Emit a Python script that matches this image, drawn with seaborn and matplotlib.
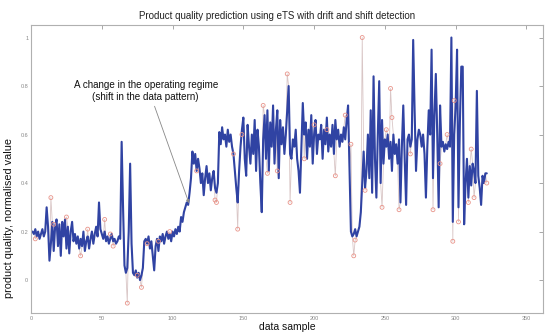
import numpy as np
import pandas as pd
import seaborn as sns
import matplotlib
matplotlib.use("Agg")
import matplotlib.pyplot as plt

# eTS prediction (blue line), one value per data sample
predicted = [
    0.20, 0.19, 0.21, 0.18, 0.20, 0.17, 0.19, 0.21, 0.18, 0.20,
    0.30, 0.22, 0.08, 0.15, 0.24, 0.12, 0.22, 0.25, 0.14, 0.23,
    0.10, 0.24, 0.18, 0.25, 0.13, 0.22, 0.11, 0.20, 0.24, 0.16,
    0.19, 0.15, 0.18, 0.13, 0.17, 0.14, 0.20, 0.12, 0.16, 0.18,
    0.13, 0.17, 0.20, 0.15, 0.19, 0.22, 0.18, 0.32, 0.21, 0.19,
    0.17, 0.20, 0.16, 0.18, 0.15, 0.17, 0.19, 0.16, 0.17, 0.15,
    0.16, 0.18, 0.17, 0.57, 0.30, 0.06, 0.03, 0.05, 0.20, 0.48,
    0.15, 0.03, 0.02, 0.04, 0.01, 0.03, 0.00, 0.02, 0.05, 0.16,
    0.17, 0.15, 0.18, 0.13, 0.16, 0.10, 0.04, 0.14, 0.17, 0.12,
    0.18, 0.16, 0.19, 0.15, 0.18, 0.20, 0.17, 0.19, 0.16, 0.20,
    0.18, 0.21, 0.19, 0.22, 0.20, 0.26, 0.24, 0.28, 0.30, 0.32,
    0.31, 0.36, 0.42, 0.53, 0.48, 0.52, 0.45, 0.50, 0.46, 0.40,
    0.44, 0.35, 0.42, 0.47, 0.40, 0.44, 0.37, 0.42, 0.45, 0.38,
    0.36, 0.40, 0.61, 0.56, 0.63, 0.58, 0.60, 0.55, 0.62, 0.57,
    0.60, 0.55, 0.52, 0.45, 0.38, 0.32, 0.45, 0.55, 0.62, 0.67,
    0.50, 0.43, 0.64, 0.55, 0.48, 0.60, 0.52, 0.66, 0.45, 0.62,
    0.55, 0.40, 0.28, 0.58, 0.68, 0.50, 0.70, 0.45, 0.65, 0.55,
    0.72, 0.48, 0.62, 0.70, 0.42, 0.66, 0.56, 0.63, 0.52, 0.60,
    0.70, 0.80, 0.52, 0.50, 0.58, 0.55, 0.62, 0.50, 0.45, 0.36,
    0.55, 0.73, 0.60, 0.65, 0.50, 0.62, 0.55, 0.68, 0.48, 0.60,
    0.66, 0.52, 0.60, 0.58, 0.64, 0.50, 0.62, 0.56, 0.67, 0.53,
    0.60, 0.55, 0.64, 0.52, 0.66, 0.58, 0.62, 0.55, 0.60, 0.57,
    0.63, 0.58, 0.66, 0.72, 0.45, 0.20, 0.18, 0.19, 0.21, 0.18,
    0.20, 0.22, 0.28, 0.40, 0.53, 0.38, 0.45, 0.60, 0.42, 0.70,
    0.36, 0.84, 0.50, 0.34, 0.60, 0.82, 0.40, 0.66, 0.48, 0.58,
    0.55, 0.60, 0.50, 0.57, 0.45, 0.60, 0.52, 0.56, 0.48, 0.58,
    0.32, 0.55, 0.72, 0.50, 0.31, 0.58, 0.60, 0.55, 0.58, 0.99,
    0.70, 0.45, 0.58, 0.62, 0.60, 0.55, 0.60, 0.52, 0.34, 0.55,
    0.70, 0.60, 0.95, 0.42, 0.68, 0.85, 0.60, 0.30, 0.72, 0.55,
    0.57, 0.53, 0.56, 0.54, 0.57, 0.55, 1.00, 0.24, 0.60, 0.72,
    0.95, 0.30, 0.65, 0.88, 0.88, 0.23, 0.40, 0.50, 0.34, 0.47,
    0.39, 0.48, 0.45, 0.40, 0.78, 0.43, 0.38, 0.31, 0.43, 0.40,
    0.44, 0.44,
]

# measured samples where the real data visibly departs from the prediction
dev_samples = [3, 14, 16, 25, 35, 40, 52, 56, 58, 68, 75, 78, 82, 90, 98,
               117, 130, 131, 143, 146, 149, 164, 167, 174, 181, 183, 193,
               200, 209, 215, 222, 226, 228, 229, 234, 236, 248, 251, 254,
               255, 260, 268, 284, 289, 294, 298, 299, 302, 309, 311, 313, 322]
dev_values = [0.17, 0.34, 0.23, 0.26, 0.10, 0.21, 0.25, 0.19, 0.14, -0.095,
              0.02, -0.03, 0.15, 0.16, 0.20, 0.45, 0.33, 0.32, 0.52, 0.21,
              0.60, 0.72, 0.44, 0.45, 0.85, 0.32, 0.50, 0.64, 0.62, 0.43,
              0.68, 0.56, 0.10, 0.165, 1.00, 0.37, 0.30, 0.62, 0.79, 0.67,
              0.29, 0.52, 0.29, 0.48, 0.60, 0.16, 0.74, 0.24, 0.32, 0.54,
              0.34, 0.40]

samples = np.arange(1, len(predicted) + 1)
df = pd.DataFrame({"sample": samples, "predicted": predicted})
df["actual"] = df["predicted"]
df.loc[df["sample"].isin(dev_samples), "actual"] = dev_values
dev = df[df["sample"].isin(dev_samples)]

sns.set_style("white")
plt.rcParams["font.family"] = ["Liberation Sans", "DejaVu Sans"]

fig = plt.figure(figsize=(5.45, 3.32), dpi=100)
ax = fig.add_axes([0.057, 0.057, 0.939, 0.868])

sns.lineplot(data=df, x="sample", y="actual", ax=ax, color="#d9c6c6", lw=0.6)
sns.lineplot(data=df, x="sample", y="predicted", ax=ax, color="#3043a3", lw=1.5)
sns.scatterplot(data=dev, x="sample", y="actual", ax=ax, s=8, marker="o",
                facecolor="none", edgecolor="#e8948a", linewidth=0.6, zorder=4)

ax.set_xlim(0, 361.6)
ax.set_ylim(-0.136, 1.052)
ax.set_xticks(np.arange(0, 351, 50))
ax.set_yticks([0, 0.2, 0.4, 0.6, 0.8, 1])
ax.set_yticklabels(["0", "0.2", "0.4", "0.6", "0.8", "1"])
ax.tick_params(direction="in", length=3, width=0.6, color="#999999",
               labelsize=4, labelcolor="#888888", pad=2,
               top=True, right=True)
for s in ax.spines.values():
    s.set_color("#b0b0b0")
    s.set_linewidth(0.8)

fig.text(0.508, 0.952, "Product quality prediction using eTS with drift and shift detection",
         ha="center", va="center", fontsize=7, color="#222222")
ax.set_xlabel("data sample", fontsize=7.5, labelpad=1, color="#111111")
ax.set_ylabel("product quality, normalised value", fontsize=7.8, color="#111111")
ax.yaxis.set_label_coords(-0.034, 0.33)

ax.annotate("A change in the operating regime\n(shift in the data pattern)",
            xy=(111.6, 0.317), xytext=(81, 0.78), ha="center", va="center",
            fontsize=7.1, color="#111111",
            arrowprops=dict(arrowstyle="-|>", color="#888888", lw=0.6,
                            relpos=(0.55, 0.0), mutation_scale=5,
                            shrinkA=1, shrinkB=0))

fig.savefig("out.png", dpi=100)
